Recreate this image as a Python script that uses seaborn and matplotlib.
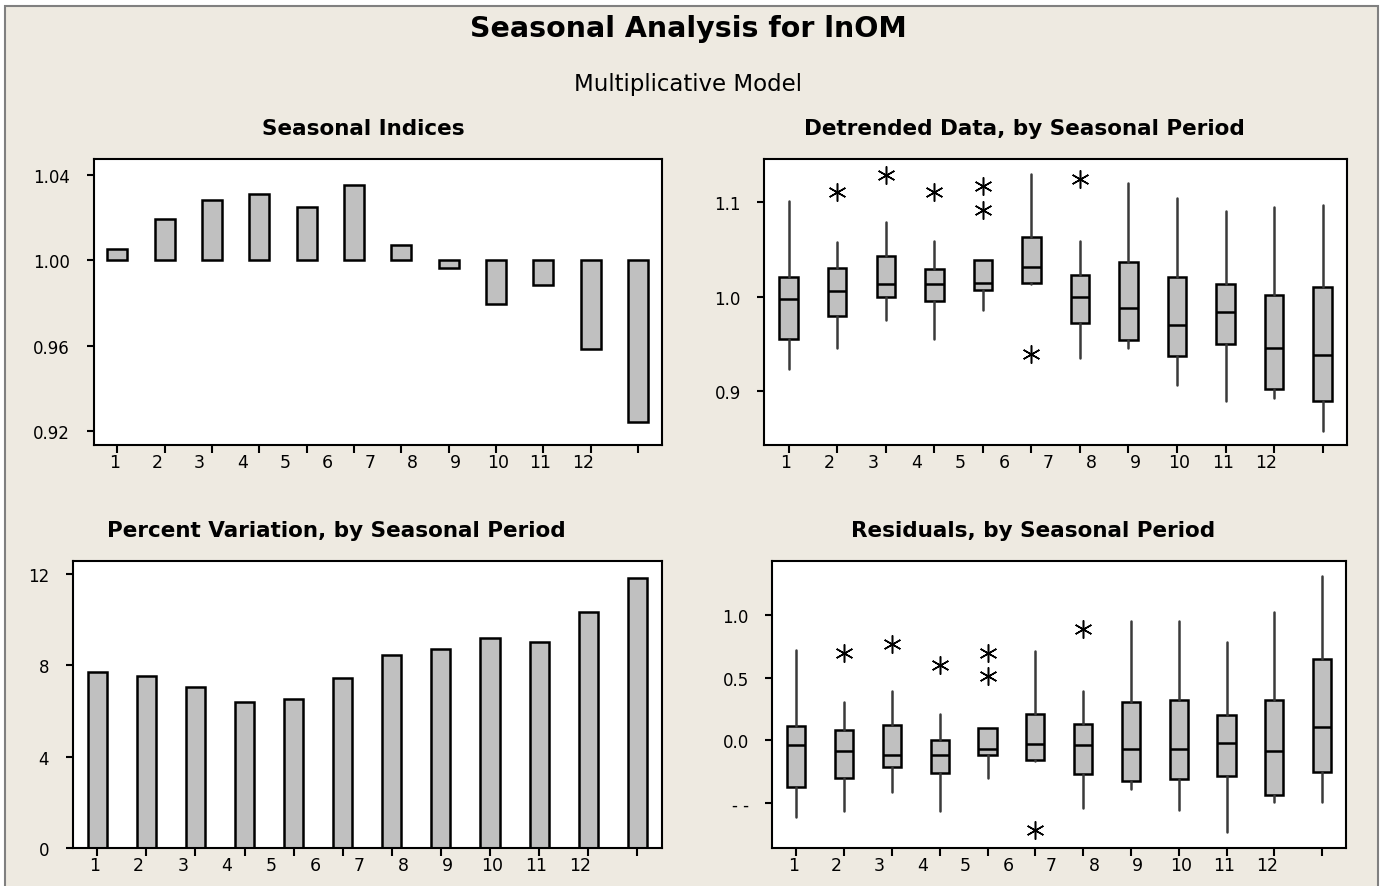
import numpy as np
import matplotlib.pyplot as plt
import seaborn as sns
from matplotlib.patches import Rectangle

# --- DATA ---
periods = [str(p) for p in range(1, 13)]

seasonal_indices = [1.0055, 1.0195, 1.0284, 1.0310, 1.0248, 1.0354,
                    1.0072, 0.9966, 0.9796, 0.9885, 0.9585, 0.9241]

percent_variation = [7.69, 7.53, 7.04, 6.38, 6.53, 7.45,
                     8.44, 8.69, 9.18, 9.02, 10.34, 11.82]

# detrended data, box summaries per period
det_q1 = [0.9556, 0.9799, 0.9993, 0.9951, 1.0077, 1.0148, 0.9718, 0.9539, 0.9377, 0.9500, 0.9021, 0.8898]
det_med = [0.9982, 1.0060, 1.0134, 1.0134, 1.0144, 1.0313, 1.0000, 0.9877, 0.9697, 0.9842, 0.9458, 0.9380]
det_q3 = [1.0208, 1.0306, 1.0437, 1.0299, 1.0387, 1.0634, 1.0229, 1.0373, 1.0215, 1.0141, 1.0018, 1.0102]
det_lo = [0.9232, 0.9454, 0.9754, 0.9549, 0.9859, 1.0137, 0.9356, 0.9461, 0.9063, 0.8898, 0.8923, 0.8581]
det_hi = [1.1011, 1.0581, 1.0792, 1.0595, 1.0387, 1.1303, 1.0595, 1.1211, 1.1046, 1.0912, 1.0951, 1.0972]
det_out = [[], [1.1106], [1.1292], [1.1109], [1.1176, 1.0923], [0.9391],
           [1.1246], [], [], [], [], []]

# residuals, box summaries per period
res_q1 = [-0.374, -0.302, -0.214, -0.259, -0.120, -0.155, -0.272, -0.328, -0.312, -0.288, -0.435, -0.254]
res_med = [-0.040, -0.085, -0.120, -0.120, -0.072, -0.032, -0.040, -0.072, -0.072, -0.021, -0.085, 0.107]
res_q3 = [0.112, 0.080, 0.125, 0.005, 0.101, 0.214, 0.128, 0.304, 0.320, 0.206, 0.320, 0.654]
res_lo = [-0.614, -0.561, -0.408, -0.561, -0.302, -0.163, -0.542, -0.387, -0.555, -0.734, -0.494, -0.494]
res_hi = [0.726, 0.307, 0.395, 0.214, 0.101, 0.715, 0.395, 0.956, 0.956, 0.787, 1.028, 1.316]
res_out = [[], [0.699], [0.774], [0.606], [0.699, 0.513], [-0.713],
           [0.894], [], [], [], [], []]

# --- STYLE ---
sns.set_style("ticks")
plt.rcParams['font.family'] = ['DejaVu Sans']
plt.rcParams['text.color'] = 'black'
plt.rcParams['xtick.color'] = 'black'
plt.rcParams['ytick.color'] = 'black'
plt.rcParams['axes.titlecolor'] = 'black'

BG = "#EEEAE1"
BAR = "#C0C0C0"

fig = plt.figure(figsize=(13.86, 8.87), dpi=100, facecolor="white")
fig.patches.append(Rectangle((5 / 1386, -0.02), 1373 / 1386, 1.02 - 7 / 887,
                             transform=fig.transFigure, facecolor=BG,
                             edgecolor="#808080", linewidth=1.5, zorder=-10))

fig.text(0.4964, 0.967, "Seasonal Analysis for lnOM", ha="center", va="center",
         fontsize=20.5, fontweight="bold")
fig.text(0.4964, 0.905, "Multiplicative Model", ha="center", va="center", fontsize=16.5)

ax_si = fig.add_axes([0.0675, 0.4972, 0.4100, 0.3224])
ax_dt = fig.add_axes([0.5515, 0.4972, 0.4203, 0.3224])
ax_pv = fig.add_axes([0.0525, 0.0428, 0.4250, 0.3236])
ax_rs = fig.add_axes([0.5573, 0.0428, 0.4139, 0.3236])


def style_axis(ax, title, title_x):
    ax.set_facecolor("white")
    for s in ax.spines.values():
        s.set_color("black")
        s.set_linewidth(1.5)
    ax.set_xlim(-0.5, 11.5)
    # ticks sit on the periods, labels drift left (as in the original output)
    ax.set_xticks(np.arange(12), labels=[""] * 12)
    ax.set_xticks(-0.06 + 0.9 * np.arange(12), labels=periods, minor=True)
    ax.tick_params(axis="x", which="major", length=6, width=1.5, color="black")
    ax.tick_params(axis="x", which="minor", length=0, pad=6, labelsize=12.5)
    ax.tick_params(axis="y", which="major", length=5, width=1.5, color="black",
                   pad=12, labelsize=12)
    ax.set_xlabel("")
    ax.set_ylabel("")
    ax.set_title(title, x=title_x, pad=18, fontsize=15.5, fontweight="bold")


def draw_boxes(ax, q1, med, q3, lo, hi, out):
    stats = [dict(q1=a, med=b, q3=c, whislo=d, whishi=e, fliers=f)
             for a, b, c, d, e, f in zip(q1, med, q3, lo, hi, out)]
    ax.bxp(stats, positions=np.arange(12), widths=0.38, patch_artist=True,
           showcaps=False,
           boxprops=dict(facecolor=BAR, edgecolor="black", linewidth=1.8),
           whiskerprops=dict(color="#3a3a3a", linewidth=1.8),
           medianprops=dict(color="black", linewidth=1.8),
           flierprops=dict(marker=(6, 2, 0), markersize=13, markeredgewidth=1.1,
                           markeredgecolor="black", color="black"))


# Seasonal indices: bars hang from 1.0
sns.barplot(x=periods, y=np.array(seasonal_indices) - 1.0, bottom=1.0, ax=ax_si,
            color=BAR, saturation=1, edgecolor="black", linewidth=1.8,
            width=0.42, errorbar=None)
style_axis(ax_si, "Seasonal Indices", 0.474)
ax_si.set_ylim(0.9135, 1.0475)
ax_si.set_yticks([0.92, 0.96, 1.00, 1.04], labels=["0.92", "0.96", "1.00", "1.04"])

# Detrended data
draw_boxes(ax_dt, det_q1, det_med, det_q3, det_lo, det_hi, det_out)
style_axis(ax_dt, "Detrended Data, by Seasonal Period", 0.447)
ax_dt.set_ylim(0.843, 1.146)
ax_dt.set_yticks([0.9, 1.0, 1.1], labels=["0.9", "1.0", "1.1"])

# Percent variation
sns.barplot(x=periods, y=percent_variation, ax=ax_pv, color=BAR, saturation=1,
            edgecolor="black", linewidth=1.8, width=0.39, errorbar=None)
style_axis(ax_pv, "Percent Variation, by Seasonal Period", 0.447)
ax_pv.set_ylim(0, 12.55)
ax_pv.set_yticks([0, 4, 8, 12], labels=["0", "4", "8", "12"])

# Residuals
draw_boxes(ax_rs, res_q1, res_med, res_q3, res_lo, res_hi, res_out)
style_axis(ax_rs, "Residuals, by Seasonal Period", 0.454)
ax_rs.set_ylim(-0.86, 1.435)
ax_rs.set_yticks([-0.5, 0.0, 0.5, 1.0], labels=["- -", "0.0", "0.5", "1.0"])

fig.savefig("out.png", dpi=100, facecolor="white")
